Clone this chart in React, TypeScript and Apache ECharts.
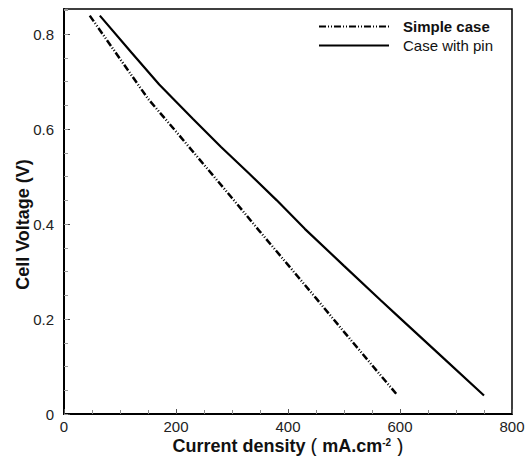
import React, { useEffect, useRef } from "react";
import * as echarts from "echarts";

const simpleX = [46, 100, 150, 200, 250, 300, 350, 400, 450, 500, 550, 595];
const simpleY = [0.839, 0.748, 0.664, 0.595, 0.525, 0.455, 0.384, 0.314, 0.244, 0.173, 0.103, 0.04];
const pinX = [64, 120, 170, 230, 280, 330, 380, 430, 500, 565, 600, 680, 750];
const pinY = [0.839, 0.762, 0.694, 0.622, 0.563, 0.507, 0.45, 0.39, 0.312, 0.24, 0.202, 0.115, 0.039];
const seriesNames = ["Simple case", "Case with pin"];
const xTicks = [0, 200, 400, 600, 800];
const yTicks = [0, 0.2, 0.4, 0.6, 0.8];

const FONT = "'Liberation Sans', Arial, sans-serif";

export default function App() {
  const ref = useRef<HTMLDivElement>(null);
  useEffect(() => {
    if (!ref.current) return;
    const chart = echarts.init(ref.current, null, { renderer: "svg" });
    const yMax = 0.853;
    chart.setOption({
      animation: false,
      textStyle: { fontFamily: FONT },
      grid: {
        left: 64,
        right: 17,
        top: 9,
        bottom: 42,
        show: true,
        borderColor: "#000",
        borderWidth: 1.5,
        backgroundColor: "transparent",
        outerBoundsMode: "none",
        containLabel: false,
      },
      legend: {
        orient: "vertical",
        left: 313,
        top: 14,
        itemWidth: 70,
        itemHeight: 12,
        itemGap: 4,
        itemStyle: { opacity: 0, borderWidth: 0 },
        textStyle: { fontSize: 15, color: "#111", padding: [0, 0, 0, 9], fontFamily: FONT },
        data: [
          { name: seriesNames[0], textStyle: { fontWeight: "bold" } },
          { name: seriesNames[1], textStyle: { fontWeight: "normal" } },
        ],
      },
      xAxis: {
        type: "value",
        min: xTicks[0],
        max: xTicks[xTicks.length - 1],
        interval: 200,
        name: "{b|Current density }{p|(}{b| mA.cm}{s|-2}{p| )}",
        nameLocation: "middle",
        nameGap: 23,
        nameMoveOverlap: false,
        nameTextStyle: {
          rich: {
            b: { fontSize: 18, fontWeight: "bold", color: "#111", fontFamily: FONT, lineHeight: 18 },
            p: { fontSize: 20, fontWeight: "normal", color: "#111", fontFamily: FONT, lineHeight: 18 },
            s: { fontSize: 10, fontWeight: "bold", color: "#111", fontFamily: FONT, verticalAlign: "top", lineHeight: 18, padding: [0, 0, 6, 0] },
          },
        },
        axisLine: { show: true, lineStyle: { color: "#000", width: 2 } },
        axisTick: { show: true, inside: true, length: 5, lineStyle: { color: "#555", width: 1 } },
        minorTick: { show: true, splitNumber: 4, length: 4, lineStyle: { color: "#888", width: 1 } },
        axisLabel: { fontSize: 15, color: "#222", margin: 5, fontFamily: FONT },
        splitLine: { show: false },
        minorSplitLine: { show: false },
      },
      yAxis: [
        {
          type: "value",
          min: yTicks[0],
          max: yMax,
          interval: 0.2,
          name: "Cell Voltage (V)",
          nameLocation: "middle",
          nameGap: 32,
          nameMoveOverlap: false,
          nameTextStyle: { fontSize: 18, fontWeight: "bold", color: "#111", fontFamily: FONT, padding: [0, 26, 0, 0] },
          axisLine: { show: true, lineStyle: { color: "#000", width: 2 } },
          axisTick: { show: true, inside: true, length: 6, lineStyle: { color: "#444", width: 1 } },
          axisLabel: {
            fontSize: 15,
            color: "#222",
            margin: 10,
            showMaxLabel: false,
            fontFamily: FONT,
            formatter: (v: number) => (v === 0 ? "0" : v.toFixed(1)),
          },
          splitLine: { show: false },
        },
        {
          type: "value",
          position: "left",
          min: yTicks[0],
          max: yMax,
          interval: 0.05,
          axisLine: { show: false },
          axisTick: { show: true, inside: true, length: 4, lineStyle: { color: "#999", width: 1 } },
          axisLabel: { show: false },
          splitLine: { show: false },
        },
      ],
      series: [
        {
          name: seriesNames[0],
          type: "line",
          yAxisIndex: 0,
          symbol: "none",
          data: simpleX.map((x, i) => [x, simpleY[i]]),
          lineStyle: { color: "#000", width: 2.5, type: [7, 2, 1, 2, 1, 2] },
          itemStyle: { color: "#000" },
        },
        {
          name: seriesNames[1],
          type: "line",
          yAxisIndex: 0,
          symbol: "none",
          data: pinX.map((x, i) => [x, pinY[i]]),
          lineStyle: { color: "#000", width: 2.2, type: "solid" },
          itemStyle: { color: "#000" },
        },
      ],
    });
    return () => chart.dispose();
  }, []);
  return <div ref={ref} style={{ width: 529, height: 456, position: "absolute", left: 0, top: 0, background: "#fff" }} />;
}
